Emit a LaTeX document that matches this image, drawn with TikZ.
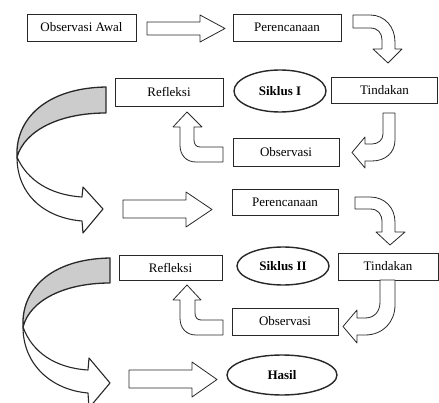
\documentclass[tikz,border=0pt]{standalone}
\usepackage{fontspec}
\setmainfont{Liberation Serif}
\usetikzlibrary{shapes.geometric}
\definecolor{ink}{RGB}{40,40,40}
\tikzset{
  box/.style={draw=ink, line width=0.8pt, fill=white, rectangle, inner sep=0pt, outer sep=0pt, font=\fontsize{13}{15}\selectfont},
  oval/.style={draw=ink, line width=1.4pt, fill=white, ellipse, inner sep=0pt, outer sep=0pt, font=\fontsize{13}{15}\selectfont\bfseries},
  blk/.style={draw=ink, line width=0.8pt, fill=white, line join=round},
  big/.style={draw=ink, line width=1.1pt, fill=white, line join=round},
  bigback/.style={draw=ink, line width=1.3pt, fill=black!20, line join=round}
}
\begin{document}
\begin{tikzpicture}[x=1pt,y=-1pt]
\useasboundingbox (0,0) rectangle (439,403);
% nodes
\node[box, minimum width=109pt, minimum height=27pt] (oa) at (81.5,27.5) {Observasi Awal};
\node[box, minimum width=108pt, minimum height=27pt] (p1) at (287,27.5) {Perencanaan};
\node[box, minimum width=106pt, minimum height=26pt] (t1) at (384.5,90) {Tindakan};
\node[box, minimum width=108pt, minimum height=28pt] (r1) at (169,92) {Refleksi};
\node[box, minimum width=106pt, minimum height=28pt] (o1) at (286,152) {Observasi};
\node[oval, minimum width=92pt, minimum height=42pt] (s1) at (280,91) {Siklus I};
\node[box, minimum width=106pt, minimum height=26pt] (p2) at (285,202) {Perencanaan};
\node[box, minimum width=100pt, minimum height=27pt] (t2) at (388,266.5) {Tindakan};
\node[box, minimum width=103pt, minimum height=25pt] (r2) at (170.5,267.5) {Refleksi};
\node[oval, minimum width=92pt, minimum height=38pt] (s2) at (283,266) {Siklus II};
\node[box, minimum width=106pt, minimum height=27pt] (o2) at (285,321.5) {Observasi};
\node[oval, minimum width=110pt, minimum height=40pt] (hs) at (282,375) {Hasil};

% straight block arrows
\draw[blk] (147,22) -- (200,22) -- (200,15) -- (225,28.5) -- (200,42) -- (200,35) -- (147,35) -- cycle;
\draw[blk] (123,200) -- (186,200) -- (186,192) -- (212,209.5) -- (186,227) -- (186,218) -- (123,218) -- cycle;
\draw[blk] (129,370) -- (192,370) -- (192,362) -- (217,379.5) -- (192,397) -- (192,388) -- (129,388) -- cycle;

% bent arrow Perencanaan I -> Tindakan I
\draw[blk] (353,15) -- (370,15) .. controls (385,15) and (395,27) .. (395,42) -- (395,49) -- (402,49) -- (388,63) -- (373,49) -- (382,49) -- (382,40) .. controls (382,33) and (378,28) .. (370,28) -- (353,28) -- cycle;
% bent arrow Tindakan I -> Observasi I
\draw[blk] (383,113) -- (395,113) -- (395,140) .. controls (395,153) and (385,161) .. (372,161) -- (365,161) -- (365,168) -- (352,152.5) -- (365,137) -- (365,144) -- (372,144) .. controls (378,144) and (383,140) .. (383,134) -- cycle;
% up arrow Observasi I -> Refleksi I
\draw[blk] (223,147) -- (200,147) .. controls (196,147) and (194,144) .. (194,140) -- (194,127) -- (202,127) -- (187,112) -- (173,127) -- (180,127) -- (180,145) .. controls (180,155) and (186,162) .. (196,162) -- (223,162) -- cycle;

% bent arrow Perencanaan II -> Tindakan II
\draw[blk] (355,197) -- (370,197) .. controls (385,197) and (395,208) .. (395,222) -- (395,232) -- (405,232) -- (390,245) -- (376,232) -- (382,232) -- (382,222) .. controls (382,214) and (378,209) .. (370,209) -- (355,209) -- cycle;
% bent arrow Tindakan II -> Observasi II
\draw[blk] (380,280) -- (395,280) -- (395,305) .. controls (395,322) and (383,335) .. (365,335) -- (357,335) -- (357,343) -- (343,326.5) -- (357,310) -- (357,318) -- (365,318) .. controls (374,318) and (380,312) .. (380,302) -- cycle;
% up arrow Observasi II -> Refleksi II
\draw[blk] (223,320) -- (201,320) .. controls (197,320) and (195,317) .. (195,313) -- (195,300) -- (201,300) -- (187,285) -- (173,300) -- (180,300) -- (180,318) .. controls (180,328) and (186,335) .. (196,335) -- (223,335) -- cycle;

% big curved arrow I
\draw[big] (17,157) .. controls (17,195) and (45,218) .. (82,221) -- (83,233) -- (103,209) -- (83,187) -- (82,197) .. controls (50,195) and (27,180) .. (17,157) -- cycle;
\draw[bigback] (106,87) .. controls (45,88) and (15,120) .. (17,157) .. controls (25,130) and (60,113) .. (106,113) -- cycle;

% big curved arrow II
\draw[big] (23,327) .. controls (23,365) and (52,390) .. (88,393) -- (89,408) -- (110,383) -- (89,358) -- (88,370) .. controls (55,368) and (32,352) .. (23,327) -- cycle;
\draw[bigback] (110,258) .. controls (50,259) and (21,290) .. (23,327) .. controls (30,300) and (65,283) .. (110,283) -- cycle;
\end{tikzpicture}
\end{document}
